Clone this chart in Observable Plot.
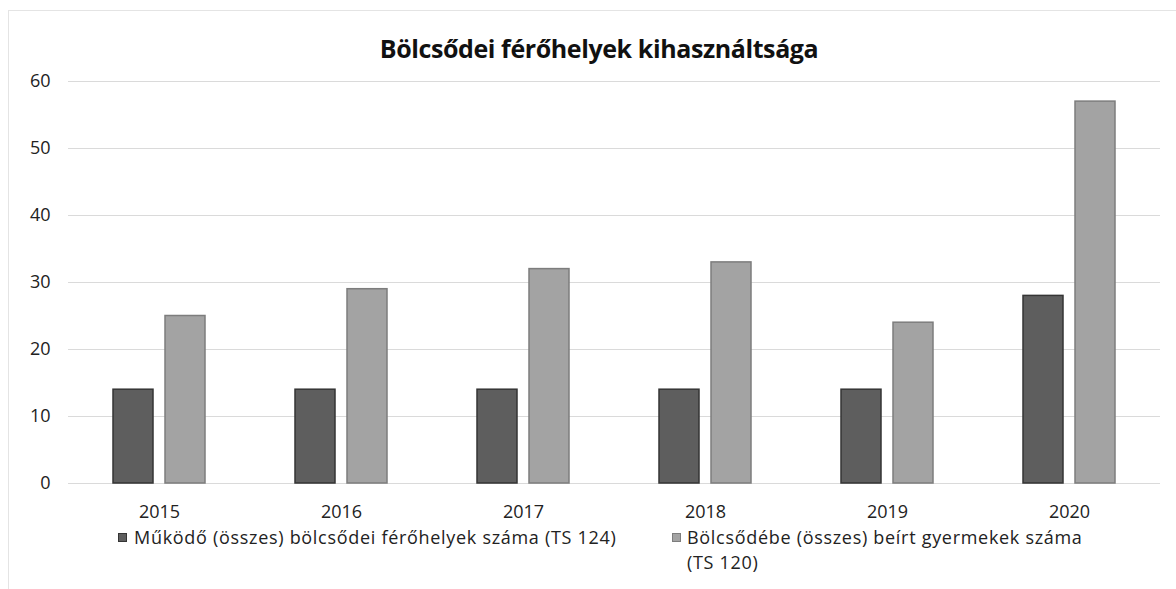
<!DOCTYPE html>
<html>
<head>
<meta charset="utf-8">
<script src="https://cdn.jsdelivr.net/npm/d3@7"></script>
<script src="https://cdn.jsdelivr.net/npm/@observablehq/plot@0.6"></script>
<style>
  html, body { margin: 0; padding: 0; background: #fff; }
  #wrap { position: relative; width: 1176px; height: 589px; overflow: hidden; font-family: "Open Sans", sans-serif; color: #222; }
  #frame { position: absolute; left: 8px; top: 10px; width: 1300px; height: 700px; border-left: 1px solid #e4e4e4; border-top: 1px solid #e4e4e4; }
  #title { height: 60px; box-sizing: border-box; padding-top: 33px; line-height: 30px; text-align: center; font-weight: bold; font-size: 25px; color: #111; letter-spacing: -0.4px; padding-left: 22px; white-space: nowrap; }
  #chart svg { display: block; overflow: visible; }
  #legend { position: relative; height: 64px; font-size: 18px; line-height: 25px; color: #222; letter-spacing: 0.7px; }
  .sw { position: absolute; top: 8px; width: 9px; height: 9px; box-sizing: border-box; }
  .txt { position: absolute; top: 0; white-space: nowrap; }
</style>
</head>
<body>
<div id="wrap">
  <div id="frame"></div>
  <div id="title"></div>
  <div id="chart"></div>
  <div id="legend"></div>
</div>
<script>
const titleText = "Bölcsődei férőhelyek kihasználtsága";
const years = ["2015", "2016", "2017", "2018", "2019", "2020"];
const seriesNames = [
  "Működő (összes) bölcsődei férőhelyek száma (TS 124)",
  "Bölcsődébe (összes) beírt gyermekek száma (TS 120)"
];
const capacity = [14, 14, 14, 14, 14, 28];
const enrolled = [25, 29, 32, 33, 24, 57];
const yTicks = [0, 10, 20, 30, 40, 50, 60];

const fills = ["#5e5e5e", "#a3a3a3"];
const strokes = ["#353535", "#7d7d7d"];

const rowsA = years.map((y, i) => ({year: y, key: 0, value: capacity[i]}));
const rowsB = years.map((y, i) => ({year: y, key: 1, value: enrolled[i]}));

document.getElementById("title").textContent = titleText;

const chart = Plot.plot({
  width: 1176,
  height: 465,
  marginTop: 21,
  marginBottom: 42,
  marginLeft: 68,
  marginRight: 16,
  style: {fontFamily: "Open Sans, sans-serif", fontSize: "18px", color: "#222", background: "transparent"},
  fx: {domain: years, padding: 0, label: null, tickSize: 0, tickPadding: 22, axis: "bottom"},
  x: {domain: [0, 1], paddingInner: 0.23, paddingOuter: 0.865, axis: null},
  y: {domain: [0, 60], ticks: yTicks, tickSize: 0, tickPadding: 18, label: null},
  marks: [
    Plot.ruleY(yTicks, {stroke: "#dadada", strokeWidth: 1}),
    Plot.barY(rowsA, {fx: "year", x: "key", y: "value", fill: fills[0], stroke: strokes[0], strokeWidth: 1.5}),
    Plot.barY(rowsB, {fx: "year", x: "key", y: "value", fill: fills[1], stroke: strokes[1], strokeWidth: 1.5})
  ]
});
document.getElementById("chart").appendChild(chart);

const legend = document.getElementById("legend");
const legendPos = [{sw: 118, tx: 134}, {sw: 672, tx: 687}];
seriesNames.forEach((name, i) => {
  const sw = document.createElement("div");
  sw.className = "sw";
  sw.style.left = legendPos[i].sw + "px";
  sw.style.background = fills[i];
  sw.style.border = "1px solid " + strokes[i];
  legend.appendChild(sw);
  const tx = document.createElement("div");
  tx.className = "txt";
  tx.style.left = legendPos[i].tx + "px";
  if (i === 1) {
    const cut = name.lastIndexOf(" (TS");
    tx.appendChild(document.createTextNode(name.slice(0, cut)));
    tx.appendChild(document.createElement("br"));
    tx.appendChild(document.createTextNode(name.slice(cut + 1)));
  } else {
    tx.textContent = name;
  }
  legend.appendChild(tx);
});
</script>
</body>
</html>
